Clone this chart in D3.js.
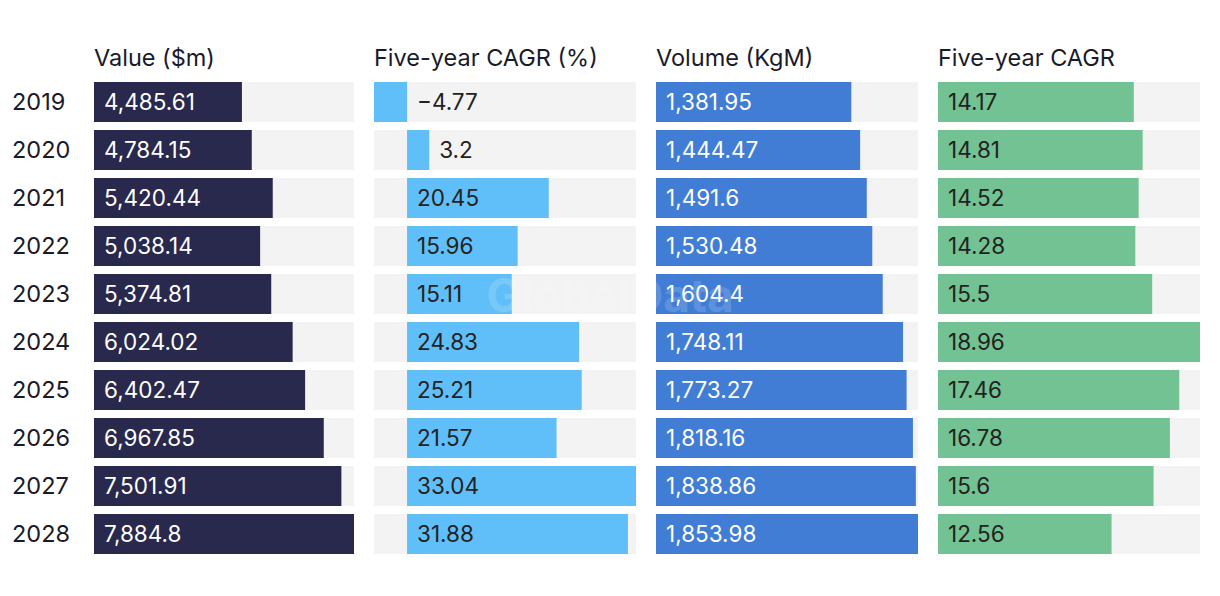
<!DOCTYPE html>
<html><head><meta charset="utf-8">
<script src="https://cdn.jsdelivr.net/npm/d3@7"></script>
<style>body{margin:0;background:#fff;}svg{display:block;font-family:Inter,"Noto Sans",sans-serif;}</style>
</head><body><svg id="c" width="1220" height="596"></svg>
<script>
const years = ["2019","2020","2021","2022","2023","2024","2025","2026","2027","2028"];
const valueM = [4485.61,4784.15,5420.44,5038.14,5374.81,6024.02,6402.47,6967.85,7501.91,7884.8];
const valueCagr = [-4.77,3.2,20.45,15.96,15.11,24.83,25.21,21.57,33.04,31.88];
const volume = [1381.95,1444.47,1491.6,1530.48,1604.4,1748.11,1773.27,1818.16,1838.86,1853.98];
const volumeCagr = [14.17,14.81,14.52,14.28,15.5,18.96,17.46,16.78,15.6,12.56];
const titles = ["Value ($m)","Five-year CAGR (%)","Volume (KgM)","Five-year CAGR"];

const svg = d3.select("#c");
const fmt = v => (v<0?"\u2212":"") + d3.format(",")(Math.abs(v));
const y = d3.scaleBand().domain(years).range([82,554]).paddingInner(1/6).paddingOuter(0);
const panels = [
  {data:valueM, x0:94, w:260, color:"#29284d", text:"#fff"},
  {data:valueCagr, x0:374, w:262, color:"#60bff8", text:"#222"},
  {data:volume, x0:656, w:262, color:"#417dd5", text:"#fff"},
  {data:volumeCagr, x0:938, w:262, color:"#72c293", text:"#222"}
];
panels.forEach((p,i)=>{
  const w = p.w;
  const lo = Math.min(0, d3.min(p.data)), hi = d3.max(p.data);
  const x = d3.scaleLinear().domain([lo,hi]).range([p.x0, p.x0+w]);
  const g = svg.append("g");
  g.append("text").attr("x",p.x0).attr("y",66).attr("font-size",23.5).attr("fill","#1a1a2a").text(titles[i]);
  years.forEach((yr,j)=>{
    const v = p.data[j];
    const yy = y(yr), bh = y.bandwidth();
    g.append("rect").attr("x",p.x0).attr("y",yy).attr("width",w).attr("height",bh).attr("fill","#f3f3f3");
    const xa = x(Math.min(0,v)), xb = x(Math.max(0,v));
    g.append("rect").attr("x",xa).attr("y",yy).attr("width",xb-xa).attr("height",bh).attr("fill",p.color);
    const label = fmt(v);
    const inside = (xb - x(0)) > 50;
    const lx = inside ? x(0)+10 : (v<0 ? x(0)+10 : xb+10);
    g.append("text").attr("x",lx).attr("y",yy+bh/2+8).attr("font-size",22.5)
      .attr("fill", inside ? p.text : "#222").text(label);
  });
});
years.forEach(yr=>{
  svg.append("text").attr("x",12).attr("y",y(yr)+y.bandwidth()/2+8).attr("font-size",23.5).attr("fill","#1a1a2a").text(yr);
});
svg.append("text").attr("x",610).attr("y",312).attr("text-anchor","middle").attr("font-size",46)
  .attr("font-weight","bold").attr("fill","#fff").attr("fill-opacity",0.18).text("GlobalData");
</script></body></html>
